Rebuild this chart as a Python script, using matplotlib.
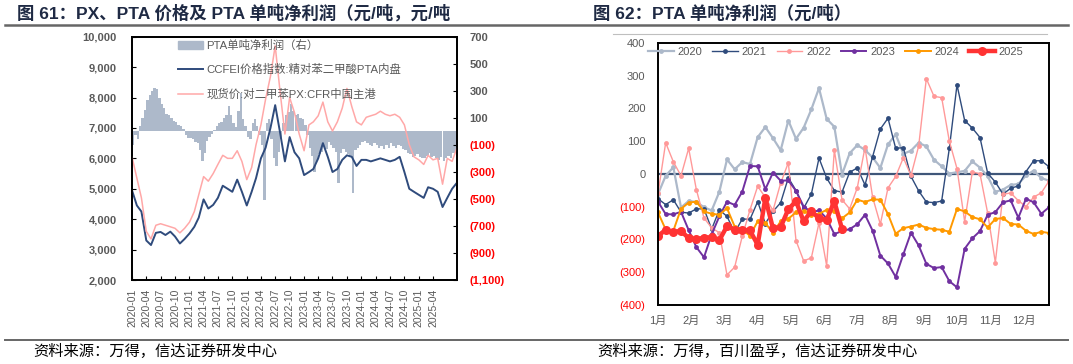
import matplotlib
matplotlib.use("Agg")
import matplotlib.pyplot as plt
from matplotlib.patches import Patch
from matplotlib.lines import Line2D
import numpy as np
import pandas as pd

plt.rcParams['font.family'] = ['Liberation Sans', 'Noto Sans CJK SC', 'DejaVu Sans']

# ---------------- left chart: monthly prices (yuan/t) ----------------
pta_price = [4950, 4450, 4250, 3300, 3150, 3550, 3580, 3480, 3590, 3430,
             3200, 3350, 3530, 3750, 4050, 4650, 4350, 4470, 4700, 5100,
             5000, 4900, 5300, 4900, 4450, 4900, 5350, 6000, 6350, 7000,
             7750, 6850, 5900, 6700, 6200, 6000, 5450, 5550, 5650, 6000,
             6500, 6050, 5550, 5650, 5950, 6100, 6050, 5750, 5950, 5950,
             5900, 5950, 6000, 5950, 5900, 5950, 6050, 5550, 5000, 4900,
             4800, 4700, 5050, 5000, 4900, 4400, 4700, 5000, 5200]
px_price = [6050, 5350, 4700, 3600, 3350, 3800, 3850, 3800, 3750, 3700,
            3550, 3700, 3900, 4250, 4800, 5400, 5250, 5500, 5800, 6100,
            6000, 6000, 6250, 5900, 5300, 5700, 6450, 7100, 7950, 8700,
            9700, 8200, 6800, 8000, 7500, 6800, 6250, 7100, 7200, 7400,
            7850, 7200, 6900, 7200, 7650, 8300, 7700, 7200, 7100, 7350,
            7400, 7450, 7550, 7450, 7400, 7450, 7350, 7100, 6450, 6050,
            5950, 5800, 6100, 5950, 6000, 5150, 6000, 5900, 6350]
# PTA net profit, two readings per month (yuan/t)
pta_profit = [-100, -30, -60, 40, 100, 160, 230, 270, 300, 320,
              310, 250, 200, 170, 130, 120, 100, 80, 70, 50,
              40, 20, -30, -50, -50, -60, -80, -90, -140, -220,
              -160, -70, -40, -20, 10, 40, 60, 70, 100, 120,
              190, 120, 60, 30, 150, 280, 90, 40, -40, -60,
              60, 90, 40, -30, -100, -510, 60, 90, -60, -200,
              -260, -150, -60, 60, 120, 140, 200, 150, 120, 130,
              100, 90, 50, -30, -120, -180, -300, -220, -170, -150,
              -110, -130, -80, -100, -120, -150, -380, -160, -130, -150,
              -170, -190, -460, -140, -120, -100, -80, -70, -90, -100,
              -110, -90, -100, -120, -110, -130, -100, -120, -90, -110,
              -120, -100, -110, -130, -140, -160, -170, -190, -180, -170,
              -190, -200, -200, -180, -160, -190, -180, -200, -210, -190,
              -220, -200, -180, -200, -160, -150]

# ---------------- right chart: weekly PTA net profit by year ----------------
month_labels = ['1月', '2月', '3月', '4月', '5月', '6月',
                '7月', '8月', '9月', '10月', '11月', '12月']
p2020 = [-62, -6, 20, -103, -83, -86, -102, -112, -55, 44, 14, 36, 30, 112,
         143, 109, 72, 163, 107, 141, 197, 262, 168, 144, -2, 63, 88, 73, 50,
         18, 90, 121, 61, 71, 95, 84, 43, 23, 1, 5, 9, 38, 19, -7, -55, -48,
         -34, -31, -5, 10, -13, -21]
p2021 = [-76, -94, -79, -117, -120, -107, -107, -169, -110, -130, -179, -138,
         -139, -85, -152, -115, -88, -12, -51, -105, -62, 48, -13, -51, -56,
         5, 18, -34, 53, 137, 170, 78, 80, -8, -52, -86, -88, -83, 78, 272,
         163, 140, 111, 2, -25, -62, -44, -37, 7, 40, 40, 22]
p2022 = [-60, 95, 37, -6, 78, -48, -135, -165, -180, -309, -285, -190, -110,
         -38, -72, -112, -28, 34, -204, -266, -257, -150, -281, 73, -79, -107,
         -42, 81, -72, -154, -43, -8, 49, -5, 85, 291, 237, 233, 100, 16,
         -146, 6, 0, -120, -271, -63, -58, -82, -100, -71, -58, -22]
p2023 = [-85, -123, -124, -116, -172, -224, -255, -185, -130, -85, -95, -54,
         24, 23, -47, 4, -21, -20, -52, -100, -117, -112, -136, -184, -175,
         -169, -154, -125, -174, -250, -274, -315, -246, -180, -219, -275,
         -288, -285, -328, -347, -229, -197, -175, -125, -117, -87, -81,
         -134, -76, -87, -122, -102]
p2024 = [-118, -170, -174, -107, -88, -85, -115, -122, -125, -105, -161, -171,
         -189, -145, -150, -181, -145, -137, -118, -115, -125, -122, -110,
         -115, -136, -118, -79, -86, -78, -79, -123, -183, -166, -161, -155,
         -165, -169, -171, -177, -107, -115, -132, -139, -164, -138, -135,
         -153, -155, -174, -184, -177, -181]
p2025 = [-190, -171, -178, -174, -197, -200, -195, -194, -203, -160, -171,
         -171, -173, -217, -74, -167, -163, -108, -84, -145, -114, -136, -141,
         -84, -168]

GRAY = '#595959'
RED = '#FF0000'


def paren(v):
    return '({:,})'.format(abs(int(v))) if v < 0 else '{:,}'.format(int(v))


fig = plt.figure(figsize=(10.73, 3.64), dpi=100)
W, H = 1073, 364

# ---------- left chart ----------
ax = fig.add_axes([132 / W, 1 - 280 / H, 325 / W, 243.3 / H])
ax2 = ax.twinx()
ax.set_zorder(ax2.get_zorder() + 1)
ax.patch.set_visible(False)

months = pd.date_range('2020-01-01', periods=len(pta_price), freq='MS')
half = []
for d in months[:len(pta_profit) // 2]:
    half.append(d)
    half.append(d + pd.Timedelta(days=15))

ax2.bar(half, pta_profit, width=15.5, align='edge', color='#ADB9CA', linewidth=0)
ax.plot(months, pta_price, color='#2F4B7C', lw=1.4)
ax.plot(months, px_price, color='#FFA8A8', lw=1.1)

ax.set_xlim(pd.Timestamp('2020-01-01'), pd.Timestamp('2025-09-01'))
ax.set_ylim(2000, 10000)
ax2.set_ylim(-1100, 700)

lt = list(range(2000, 10001, 1000))
ax.set_yticks(lt)
ax.set_yticklabels(['{:,}'.format(v) for v in lt], fontsize=8, color=GRAY, fontweight='bold')
rt = list(range(-1100, 701, 200))
ax2.set_yticks(rt)
ax2.set_yticklabels([paren(v) for v in rt], fontsize=8, fontweight='bold')
for lab, v in zip(ax2.get_yticklabels(), rt):
    lab.set_color(RED if v < 0 else GRAY)

xt = pd.date_range('2020-01-01', '2025-04-01', freq='QS')
ax.set_xticks(xt)
ax.set_xticklabels([d.strftime('%Y-%m') for d in xt], rotation=90, fontsize=7.5, color=GRAY)
ax.tick_params(axis='y', direction='in', length=3, pad=11)
ax.tick_params(axis='x', direction='in', length=3, pad=6)
ax2.tick_params(axis='y', direction='in', length=3, pad=9)
for a in (ax, ax2):
    for s in a.spines.values():
        s.set_linewidth(1.3)
        s.set_color('black')

handles = [Patch(color='#ADB9CA'),
           Line2D([], [], color='#2F4B7C', lw=1.4),
           Line2D([], [], color='#FFA8A8', lw=1.1)]
ax.legend(handles, ['PTA单吨净利润（右）', 'CCFEI价格指数:精对苯二甲酸PTA内盘',
                    '现货价:对二甲苯PX:CFR中国主港'],
          loc='upper left', bbox_to_anchor=(178 / W, 1 - 40 / H), bbox_transform=fig.transFigure,
          frameon=False, fontsize=8.2, labelcolor=GRAY, handlelength=2.2,
          handletextpad=0.3, labelspacing=1.15, borderpad=0, borderaxespad=0)

# ---------- right chart ----------
bx = fig.add_axes([658 / W, 1 - 304.7 / H, 391 / W, 261.7 / H])
weeks = np.arange(52)
styles = [
    ('2020', p2020, '#ADB9CA', 1.6, 3.5),
    ('2021', p2021, '#2F4B7C', 1.0, 3.5),
    ('2022', p2022, '#FF9999', 1.0, 3.5),
    ('2023', p2023, '#7030A0', 1.4, 3.5),
    ('2024', p2024, '#FF9900', 1.4, 3.5),
    ('2025', p2025, '#FF3333', 3.2, 6.5),
]
for name, vals, col, lw, ms in styles:
    bx.plot(weeks[:len(vals)], vals, color=col, lw=lw, marker='o', ms=ms,
            markeredgewidth=0, label=name)
bx.axhline(0, color='#3F5679', lw=1.6, zorder=1)

bx.set_xlim(0, 51)
bx.set_ylim(-400, 400)
yt = list(range(-400, 401, 100))
bx.set_yticks(yt)
bx.set_yticklabels([paren(v) for v in yt], fontsize=8)
for lab, v in zip(bx.get_yticklabels(), yt):
    lab.set_color(RED if v < 0 else GRAY)
bx.set_xticks(np.arange(12) * 52 / 12)
bx.set_xticklabels(month_labels, fontsize=8, color=GRAY)
bx.tick_params(length=0)
bx.tick_params(axis='y', pad=9)
bx.tick_params(axis='x', pad=8)
for s in bx.spines.values():
    s.set_linewidth(1.4)
    s.set_color('black')
bx.legend(ncol=6, loc='center left', bbox_to_anchor=(648 / W, 1 - 52 / H),
          bbox_transform=fig.transFigure, frameon=False, fontsize=8,
          labelcolor=GRAY, handlelength=2.3, handletextpad=0.35,
          columnspacing=0.9, borderpad=0, borderaxespad=0)

# ---------- titles, rules, sources ----------
title_color = '#1F2A44'
fig.text(17 / W, 1 - 13 / H, '图 61：PX、PTA 价格及 PTA 单吨净利润（元/吨，元/吨',
         fontsize=12.5, fontweight='bold', color=title_color, va='center')
fig.text(593 / W, 1 - 13 / H, '图 62：PTA 单吨净利润（元/吨）',
         fontsize=12.5, fontweight='bold', color=title_color, va='center')
fig.add_artist(Line2D([5 / W, 1068 / W], [1 - 25 / H, 1 - 25 / H], color='#666666', lw=1.8))
fig.add_artist(Line2D([613 / W, 1047 / W], [1 - 34 / H, 1 - 34 / H], color='#BFBFBF', lw=0.8))
fig.add_artist(Line2D([5 / W, 1068 / W], [1 - 340 / H, 1 - 340 / H], color='#666666', lw=1.4))
fig.text(33 / W, 1 - 351 / H, '资料来源：万得，信达证券研发中心', fontsize=11,
         style='italic', color='black', va='center')
fig.text(597 / W, 1 - 351 / H, '资料来源：万得，百川盈孚，信达证券研发中心', fontsize=11,
         style='italic', color='black', va='center')

fig.savefig('out.png', dpi=100)
